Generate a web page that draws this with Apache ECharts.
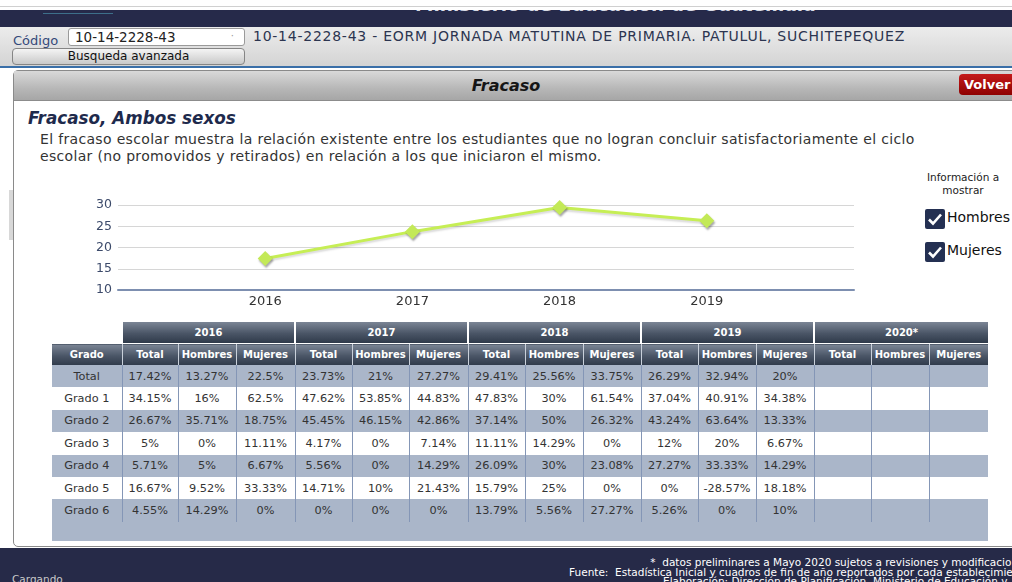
<!DOCTYPE html>
<html>
<head>
<meta charset="utf-8">
<script src="https://cdn.jsdelivr.net/npm/echarts@6/dist/echarts.min.js"></script>
<style>
  body { margin: 0; width: 1012px; height: 582px; overflow: hidden; position: relative; background: #fff; font-family: 'DejaVu Sans', Verdana, sans-serif; color: #333; }
  .abs { position: absolute; }
  #topline { left: 0; top: 6px; width: 1012px; height: 1px; background: #d0d0d0; }
  #band { left: 0; top: 10px; width: 1012px; height: 17px; background: #262a4a; overflow: hidden; }
  #band .ttl { position: absolute; left: 415px; top: -16px; font: bold 18.5px 'DejaVu Sans'; color: #d8dbe6; white-space: nowrap; }
  #band .mark { position: absolute; left: 43px; top: 3px; width: 70px; height: 1px; background: #3d6f8a; }
  #toolbar { left: 0; top: 27px; width: 1012px; height: 40px; background: linear-gradient(#ececec, #d3d3d3); }
  #codigo { left: 13px; top: 33px; font-size: 13px; color: #34497a; }
  #input { left: 68px; top: 28px; width: 177px; height: 18px; background: #fff; border: 1px solid #9a9a9a; border-radius: 3px; box-sizing: border-box; font-size: 13.5px; color: #222; padding-left: 6px; line-height: 16px; }
  #input span { position: absolute; right: 10px; top: -1px; color: #999; font-size: 10px; }
  #escuela { left: 253px; top: 28px; font-size: 14px; letter-spacing: 0.75px; color: #2c3550; white-space: nowrap; }
  #buscar { left: 12px; top: 48px; width: 233px; height: 17px; box-sizing: border-box; border: 1px solid #858585; border-radius: 4px; background: linear-gradient(#f4f4f4, #c9c9c9); font-size: 12px; text-align: center; line-height: 15px; color: #111; }
  #blueline { left: 0; top: 66px; width: 1012px; height: 2px; background: #3a6fa8; }
  #panel { left: 13px; top: 70px; width: 1040px; height: 477px; border: 1px solid #8a8a8a; border-radius: 5px; box-sizing: border-box; background: #fff; }
  #phead { left: 14px; top: 71px; width: 1030px; height: 29px; background: linear-gradient(#d9d9d9, #b7b7b7 60%, #a6a6a6); border-bottom: 1px solid #8c8c8c; }
  #phead .t { position: absolute; left: -14px; width: 1012px; top: 5px; text-align: center; font: italic bold 16px 'DejaVu Sans'; color: #151515; }
  #volver { left: 959px; top: 74px; width: 62px; height: 21px; border-radius: 4px; background: linear-gradient(#c41a1a, #8e0000); font: bold 13px 'DejaVu Sans'; color: #fff; line-height: 21px; padding-left: 5px; box-sizing: border-box; }
  #leftstrip { left: 9px; top: 190px; width: 4px; height: 50px; background: #d8d8d8; }
  #titulo { left: 28px; top: 108px; font: italic bold 16.8px 'DejaVu Sans'; color: #1e2a4c; }
  #desc { left: 40px; top: 131px; font-size: 14px; letter-spacing: 0.33px; line-height: 17px; color: #333; white-space: nowrap; }
  #chart { left: 0; top: 180px; width: 900px; height: 140px; }
  #info { left: 914px; top: 171px; width: 98px; text-align: center; font-size: 10.5px; line-height: 13px; color: #222; }
  .chk { position: absolute; left: 925px; width: 20px; height: 20px; background: #243052; border-radius: 2px; }
  .chk svg { position: absolute; left: 2px; top: 2px; }
  .chkl { position: absolute; left: 947px; font-size: 14px; color: #111; }
  #tabla { left: 52px; top: 322px; border-collapse: collapse; table-layout: fixed; }
  #tabla td, #tabla th { padding: 0; text-align: center; white-space: nowrap; overflow: hidden; }
  #tabla th { color: #fff; font-size: 10px; font-weight: bold; background: linear-gradient(#7b8595, #4a5566 55%, #2f3a4a); border-left: 1px solid #c9d0da; }
  #tabla tr.yr th { height: 21px; border-left: 2px solid #fff; }
  #tabla tr.yr th.blank { background: #fff; border: none; }
  #tabla tr.sub th { height: 21px; border-top: 1px solid #fff; }
  #tabla td { font-size: 11.3px; height: 22.4px; color: #333; border-left: 1px solid #8496b6; }
  #tabla tr.odd td { background: #aab6c9; }
  #tabla tr.even td { background: #fff; }
  #tabla tr.foot td { height: 19px; background: #aab6c9; border-left: none; }
  #footer { left: 0; top: 548px; width: 1012px; height: 34px; background: #262a48; }
  #footer .r { position: absolute; right: -18px; top: 10px; text-align: right; font: 10.5px 'DejaVu Sans'; line-height: 9.6px; color: #fff; white-space: nowrap; }
  #footer .l { position: absolute; left: 12px; top: 25px; font: 10.5px 'DejaVu Sans'; color: #c8c8c8; }
</style>
</head>
<body>
<div class="abs" id="topline"></div>
<div class="abs" id="band"><div class="mark"></div><div class="ttl">Ministerio de Educación de Guatemala</div></div>
<div class="abs" id="toolbar"></div>
<div class="abs" id="codigo">Código</div>
<div class="abs" id="input">10-14-2228-43<span>·</span></div>
<div class="abs" id="escuela">10-14-2228-43 - EORM JORNADA MATUTINA DE PRIMARIA. PATULUL, SUCHITEPEQUEZ</div>
<div class="abs" id="buscar">Busqueda avanzada</div>
<div class="abs" id="blueline"></div>
<div class="abs" id="panel"></div>
<div class="abs" id="phead"><div class="t">Fracaso</div></div>
<div class="abs" id="volver">Volver</div>
<div class="abs" id="leftstrip"></div>
<div class="abs" id="titulo">Fracaso, Ambos sexos</div>
<div class="abs" id="desc">El fracaso escolar muestra la relación existente entre los estudiantes que no logran concluir satisfactoriamente el ciclo<br>escolar (no promovidos y retirados) en relación a los que iniciaron el mismo.</div>
<div class="abs" id="chart"></div>
<div class="abs" id="info">Información a<br>mostrar</div>
<div class="chk" style="top:209px"><svg width="16" height="16" viewBox="0 0 16 16"><path d="M2 8.5 L6 12.5 L14 3.5" stroke="#fff" stroke-width="2.6" fill="none"/></svg></div>
<div class="chkl" style="top:209px">Hombres</div>
<div class="chk" style="top:242px"><svg width="16" height="16" viewBox="0 0 16 16"><path d="M2 8.5 L6 12.5 L14 3.5" stroke="#fff" stroke-width="2.6" fill="none"/></svg></div>
<div class="chkl" style="top:242px">Mujeres</div>
<table class="abs" id="tabla"></table>
<div class="abs" id="footer">
  <div class="r">*&nbsp; datos preliminares a Mayo 2020 sujetos a revisiones y modificaciones<br>Fuente:&nbsp; Estadística Inicial y cuadros de fin de año reportados por cada establecimiento<br>Elaboración: Dirección de Planificación, Ministerio de Educación v. 0.0</div>
  <div class="l">Cargando</div>
</div>
<script>
// datos del grafico
const years = [2016, 2017, 2018, 2019];
const fracasoTotal = [17.42, 23.73, 29.41, 26.29];
const yMin = 10, yMax = 30, yStep = 5;

// datos de la tabla
const tableYears = ['2016', '2017', '2018', '2019', '2020*'];
const subCols = ['Total', 'Hombres', 'Mujeres'];
const grados = ['Total', 'Grado 1', 'Grado 2', 'Grado 3', 'Grado 4', 'Grado 5', 'Grado 6'];
const filaTotal = [17.42, 13.27, 22.5, 23.73, 21, 27.27, 29.41, 25.56, 33.75, 26.29, 32.94, 20];
const filaGrado1 = [34.15, 16, 62.5, 47.62, 53.85, 44.83, 47.83, 30, 61.54, 37.04, 40.91, 34.38];
const filaGrado2 = [26.67, 35.71, 18.75, 45.45, 46.15, 42.86, 37.14, 50, 26.32, 43.24, 63.64, 13.33];
const filaGrado3 = [5, 0, 11.11, 4.17, 0, 7.14, 11.11, 14.29, 0, 12, 20, 6.67];
const filaGrado4 = [5.71, 5, 6.67, 5.56, 0, 14.29, 26.09, 30, 23.08, 27.27, 33.33, 14.29];
const filaGrado5 = [16.67, 9.52, 33.33, 14.71, 10, 21.43, 15.79, 25, 0, 0, -28.57, 18.18];
const filaGrado6 = [4.55, 14.29, 0, 0, 0, 0, 13.79, 5.56, 27.27, 5.26, 0, 10];
const colWidths = [70, 56, 58, 59, 57, 57, 59, 57, 58, 58, 57, 58, 58, 57, 58, 59];

// tabla
const filas = [filaTotal, filaGrado1, filaGrado2, filaGrado3, filaGrado4, filaGrado5, filaGrado6];
let html = '<colgroup>' + colWidths.map(w => '<col style="width:' + w + 'px">').join('') + '</colgroup>';
html += '<tr class="yr"><th class="blank"></th>' + tableYears.map(y => '<th colspan="3">' + y + '</th>').join('') + '</tr>';
html += '<tr class="sub"><th style="border-left:none">Grado</th>';
tableYears.forEach(() => subCols.forEach(c => { html += '<th>' + c + '</th>'; }));
html += '</tr>';
filas.forEach((fila, i) => {
  html += '<tr class="' + (i % 2 === 0 ? 'odd' : 'even') + '"><td style="border-left:none">' + grados[i] + '</td>';
  for (let k = 0; k < tableYears.length * 3; k++) {
    html += '<td>' + (k < fila.length ? fila[k] + '%' : '') + '</td>';
  }
  html += '</tr>';
});
html += '<tr class="foot"><td colspan="16"></td></tr>';
document.getElementById('tabla').innerHTML = html;

// grafico
const chartDom = document.getElementById('chart');
const myChart = echarts.init(chartDom, null, { renderer: 'canvas' });

const option = {
  animation: false,
  grid: { left: 118, top: 25, width: 736, height: 85 },
  xAxis: {
    type: 'value',
    min: 2015,
    max: 2020,
    interval: 1,
    axisLine: { show: true, lineStyle: { color: '#7d8fb0', width: 2 } },
    axisTick: { show: false },
    splitLine: { show: false },
    axisLabel: {
      margin: 5,
      fontSize: 13,
      fontFamily: 'DejaVu Sans',
      color: '#333',
      formatter: v => (years.indexOf(v) >= 0 ? String(v) : '')
    }
  },
  yAxis: {
    type: 'value',
    min: yMin,
    max: yMax,
    interval: yStep,
    axisLine: { show: false },
    axisTick: { show: false },
    axisLabel: { margin: 6, fontSize: 12.5, fontFamily: 'DejaVu Sans', color: '#3c4a6a' },
    splitLine: { lineStyle: { color: '#d6d6d6', width: 1 } }
  },
  series: [{
    type: 'line',
    data: years.map((y, i) => [y, fracasoTotal[i]]),
    symbol: 'diamond',
    symbolSize: [15, 15],
    lineStyle: { color: '#c6ee55', width: 3, shadowColor: 'rgba(0,0,0,0.15)', shadowOffsetY: 2, shadowBlur: 2 },
    itemStyle: { color: '#c3e957', shadowColor: 'rgba(0,0,0,0.35)', shadowOffsetX: 1, shadowOffsetY: 2, shadowBlur: 2 }
  }]
};

myChart.setOption(option);
</script>
</body>
</html>
